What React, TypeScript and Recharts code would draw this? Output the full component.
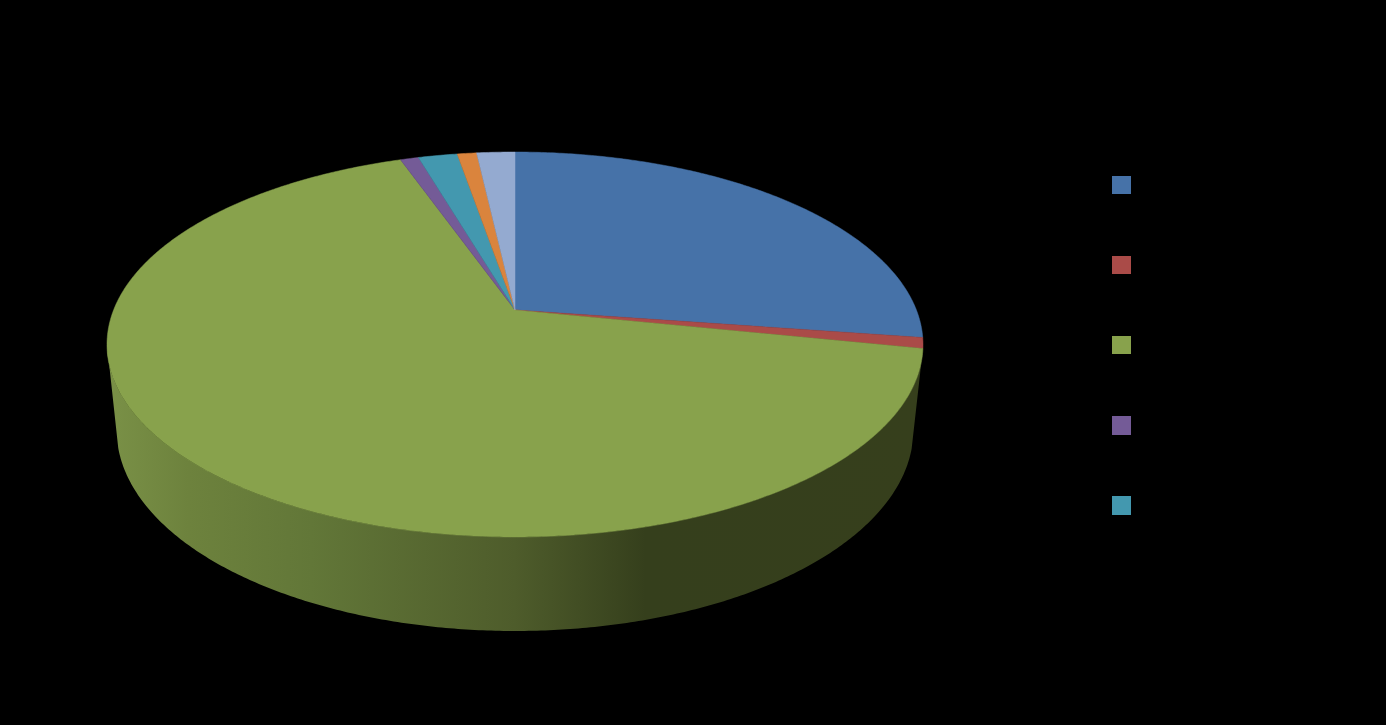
import React from "react";
import { PieChart, Pie, Legend } from "recharts";

const categories = ["A", "B", "C", "D", "E", "F", "G"];
const shares = [27.3, 0.9, 66.39, 0.86, 1.84, 0.91, 1.8];
const colors = ["#4672a8", "#aa4b48", "#88a24c", "#745b97", "#4398af", "#da843d", "#94aad0"];
const rows = categories.map((name, i) => ({ name, value: shares[i], fill: colors[i] }));

const LEGEND_COUNT = 5;
const R = 186.3;
const K = 0.1792;
const TOP = { ax: 401.4 / R, by: 1, dy: 0 };
const BOTTOM = { ax: 391.9 / R, by: 194.5 / R, dy: 84 };
const WALL_KINK = 137;
const RAD = Math.PI / 180;
const EDGE_RIGHT = 100.3;
const EDGE_LEFT = 259.7;

function project(cx: number, cy: number, r: number, deg: number, p: typeof TOP) {
  const u = Math.sin(deg * RAD);
  const v = Math.cos(deg * RAD);
  const w = 1 + K * v;
  return [cx + (p.ax * r * u) / w, cy + p.dy - (p.by * r * v) / w];
}

function arcPoints(cx: number, cy: number, r: number, a: number, b: number, p: typeof TOP) {
  const pts: number[][] = [];
  const n = Math.max(2, Math.ceil(Math.abs(b - a) * 2));
  for (let i = 0; i <= n; i++) pts.push(project(cx, cy, r, a + ((b - a) * i) / n, p));
  return pts;
}

const toPath = (pts: number[][]) =>
  pts.map((q, i) => `${i ? "L" : "M"}${q[0].toFixed(2)} ${q[1].toFixed(2)}`).join(" ");

function Slice(props: any) {
  const { cx, cy, outerRadius, startAngle, endAngle, fill, payload } = props;
  const s = 90 - startAngle;
  const e = 90 - endAngle;
  const top = arcPoints(cx, cy, outerRadius, s, e, TOP);
  const wallStart = Math.max(s, EDGE_RIGHT);
  const wallEnd = Math.min(e, EDGE_LEFT);
  const isMain = payload?.name === categories[2] || props.name === categories[2];
  const lower = arcPoints(cx, cy, outerRadius, wallEnd, wallStart, BOTTOM).filter((q) => q[1] >= cy + WALL_KINK);
  return (
    <g>
      {isMain && wallEnd > wallStart && (
        <path
          d={
            toPath(arcPoints(cx, cy, outerRadius, wallStart, wallEnd, TOP)) +
            " " +
            toPath(lower).replace(/^M/, "L") +
            " Z"
          }
          fill="url(#wallShade)"
        />
      )}
      <path
        d={`M${cx} ${cy} ${toPath(top).replace(/^M/, "L")} Z`}
        fill={fill}
        stroke={fill}
        strokeWidth={0.5}
        strokeLinejoin="round"
      />
    </g>
  );
}

function Swatches({ payload }: any) {
  const items = (payload || []).slice(0, LEGEND_COUNT);
  return (
    <div style={{ position: "relative" }}>
      {items.map((it: any, i: number) => (
        <div
          key={i}
          style={{ position: "absolute", left: 0, top: i * 80, width: 19, height: i > 2 ? 19 : 18, background: it.color }}
        />
      ))}
    </div>
  );
}

export default function App() {
  return (
    <div style={{ position: "absolute", left: 0, top: 0, width: 1386, height: 725, background: "#000", overflow: "hidden" }}>
      <PieChart width={1386} height={725} margin={{ top: 0, right: 0, bottom: 0, left: 0 }}>
        <defs>
          <linearGradient id="wallShade" gradientUnits="userSpaceOnUse" x1="107" y1="0" x2="923" y2="0">
            <stop offset="0" stopColor="#7a9147" />
            <stop offset="0.1" stopColor="#6d823d" />
            <stop offset="0.25" stopColor="#627738" />
            <stop offset="0.5" stopColor="#4e5c2b" />
            <stop offset="0.66" stopColor="#353f1c" />
            <stop offset="1" stopColor="#363f1c" />
          </linearGradient>
        </defs>
        <Pie
          data={rows}
          dataKey="value"
          nameKey="name"
          cx={515}
          cy={310}
          outerRadius={R}
          startAngle={90}
          endAngle={-270}
          stroke="none"
          paddingAngle={0}
          labelLine={false}
          isAnimationActive={false}
          shape={Slice}
        />
        <Legend
          content={<Swatches />}
          layout="vertical"
          wrapperStyle={{ position: "absolute", left: 1112, top: 176, width: 19, height: 338 }}
        />
      </PieChart>
    </div>
  );
}
